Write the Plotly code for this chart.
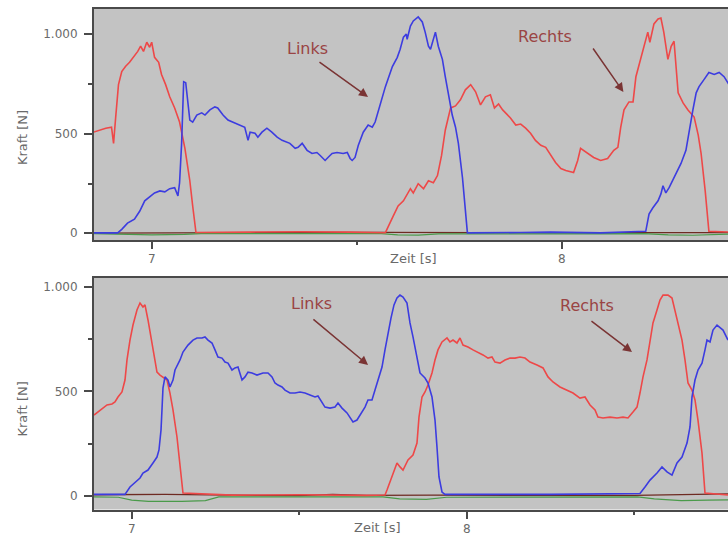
import plotly.graph_objects as go

# ---------- upper panel: force [N] over time [s] ----------
top_red_t = [6.858, 6.873, 6.888, 6.902, 6.907, 6.912, 6.919, 6.927, 6.936, 6.946, 6.956, 6.966,
             6.973, 6.980, 6.988, 6.995, 7.000, 7.007, 7.017, 7.024, 7.034, 7.044, 7.056, 7.068,
             7.081, 7.093, 7.100, 7.108, 7.240, 7.362, 7.484, 7.570,
             7.589, 7.601, 7.614, 7.631, 7.638, 7.650, 7.663, 7.675, 7.687, 7.697, 7.707, 7.716,
             7.729, 7.741, 7.753, 7.765, 7.778, 7.790, 7.802, 7.814, 7.826, 7.836, 7.846, 7.856,
             7.866, 7.875, 7.888, 7.900, 7.912, 7.924, 7.936, 7.949, 7.961, 7.973, 7.985, 7.998,
             8.010, 8.029, 8.039, 8.046, 8.061, 8.078, 8.095, 8.112, 8.127, 8.137, 8.144, 8.152,
             8.164, 8.174, 8.181, 8.191, 8.200, 8.210, 8.215, 8.225, 8.235, 8.242, 8.249, 8.259,
             8.267, 8.274, 8.284, 8.296, 8.308, 8.323, 8.333, 8.340, 8.350, 8.359, 8.408]
top_red_f = [508, 518, 528, 533, 452, 579, 747, 813, 838, 859, 884, 914,
             940, 914, 960, 935, 960, 884, 859, 798, 747, 686, 630, 559,
             427, 264, 137, 4, 6, 8, 6, 3,
             86, 137, 163, 224, 203, 249, 224, 264, 254, 290, 391, 518,
             630, 640, 671, 721, 747, 711, 645, 686, 696, 630, 650, 620,
             599, 579, 544, 549, 528, 503, 467, 442, 432, 391, 356, 325,
             315, 305, 366, 427, 406, 381, 366, 376, 417, 432, 533, 620,
             660, 660, 787, 864, 940, 1011, 960, 1052, 1077, 1082, 1011, 874,
             940, 965, 706, 655, 620, 584, 493, 401, 213, 10, 6]

top_blue_t = [6.858, 6.917, 6.927, 6.941, 6.958, 6.971, 6.983, 6.995, 7.007, 7.020, 7.032, 7.044,
              7.056, 7.064, 7.068, 7.073, 7.076, 7.078, 7.083, 7.088, 7.093, 7.100, 7.110, 7.122,
              7.130, 7.142, 7.154, 7.161, 7.174, 7.186, 7.198, 7.215, 7.227, 7.235, 7.240, 7.252,
              7.259, 7.269, 7.281, 7.293, 7.306, 7.318, 7.330, 7.337, 7.350, 7.357, 7.367, 7.379,
              7.391, 7.403, 7.411, 7.423, 7.430, 7.440, 7.452, 7.467, 7.477, 7.484, 7.489, 7.496,
              7.504, 7.516, 7.528, 7.538, 7.545, 7.557, 7.570, 7.587, 7.599, 7.606, 7.614, 7.621,
              7.623, 7.631, 7.638, 7.650, 7.660, 7.667, 7.675, 7.680, 7.687, 7.692, 7.699, 7.709,
              7.716, 7.724, 7.733, 7.741, 7.748, 7.758, 7.765, 7.770, 7.900, 7.973, 8.095, 8.205,
              8.213, 8.222, 8.235, 8.242, 8.247, 8.254, 8.262, 8.274, 8.291, 8.303, 8.311, 8.320,
              8.328, 8.335, 8.347, 8.359, 8.372, 8.384, 8.396, 8.408]
top_blue_f = [2, 2, 20, 51, 71, 112, 163, 183, 203, 213, 208, 224,
              229, 188, 254, 452, 671, 762, 757, 671, 569, 559, 594, 605,
              594, 620, 635, 630, 594, 569, 559, 544, 533, 467, 508, 503,
              483, 508, 528, 508, 483, 467, 457, 452, 427, 432, 452, 417,
              401, 406, 391, 366, 381, 401, 406, 401, 406, 376, 366, 381,
              442, 508, 544, 533, 559, 645, 737, 838, 884, 925, 986, 1001,
              975, 1041, 1067, 1087, 1062, 1011, 940, 925, 975, 1011, 940, 874,
              787, 686, 594, 533, 452, 279, 97, 2, 4, 6, 2, 10,
              97, 127, 163, 198, 239, 203, 229, 279, 351, 417, 518, 620,
              706, 737, 772, 808, 798, 808, 787, 747]

top_green_t = [6.858, 6.930, 7.000, 7.080, 7.120, 7.560, 7.600, 7.650, 7.700, 8.200, 8.260, 8.320, 8.380, 8.408]
top_green_f = [-2, -6, -8, -6, -2, -2, -8, -9, -3, -2, -8, -10, -5, -4]

top_dark_t = [6.858, 7.000, 7.200, 7.400, 7.480, 7.560, 7.800, 8.000, 8.200, 8.408]
top_dark_f = [1, 2, 4, 3, 6, 5, 3, 2, 4, 3]

# ---------- lower panel ----------
bot_red_t = [6.8875, 6.9054, 6.9263, 6.9412, 6.9501, 6.9591, 6.9710, 6.9800, 6.9860, 6.9949,
             7.0039, 7.0158, 7.0248, 7.0337, 7.0397, 7.0487, 7.0606, 7.0696, 7.0755, 7.0845,
             7.0934, 7.1054, 7.1143, 7.1233, 7.1352, 7.1442, 7.1531, 7.3000, 7.5000, 7.7000,
             7.7561, 7.7621, 7.7770, 7.7919, 7.8009, 7.8099, 7.8248, 7.8397, 7.8516, 7.8576,
             7.8666, 7.8755, 7.8845, 7.8964, 7.9054, 7.9143, 7.9263, 7.9412, 7.9501, 7.9591,
             7.9710, 7.9800, 7.9890, 8.0039, 8.0188, 8.0337, 8.0487, 8.0636, 8.0755, 8.0845,
             8.0994, 8.1143, 8.1293, 8.1442, 8.1591, 8.1740, 8.1890, 8.2099, 8.2278, 8.2427,
             8.2576, 8.2785, 8.2994, 8.3173, 8.3382, 8.3531, 8.3681, 8.3830, 8.3919, 8.4069,
             8.4278, 8.4487, 8.4666, 8.4815, 8.4964, 8.5084, 8.5173, 8.5263, 8.5382, 8.5472,
             8.5561, 8.5681, 8.5770, 8.5860, 8.6009, 8.6128, 8.6218, 8.6307, 8.6427, 8.6516,
             8.6606, 8.6725, 8.6815, 8.6904, 8.7024, 8.7113, 8.7800]
bot_red_f = [387, 411, 435, 440, 449, 473, 497, 554, 650, 745,
             817, 889, 922, 903, 913, 841, 736, 650, 592, 578,
             569, 554, 492, 411, 282, 139, 14, 4, 6, 3,
             5, 29, 91, 158, 139, 124, 172, 196, 253, 377,
             473, 497, 530, 588, 650, 698, 736, 755, 736, 745,
             731, 755, 721, 712, 698, 688, 674, 659, 664, 640,
             635, 650, 659, 659, 664, 659, 640, 626, 612, 569,
             545, 521, 506, 492, 468, 473, 435, 411, 377, 373,
             377, 373, 377, 373, 401, 425, 492, 569, 650, 731,
             827, 889, 936, 960, 960, 946, 889, 827, 745, 650,
             540, 506, 459, 363, 205, 14, 5]

bot_blue_t = [6.8875, 6.9800, 6.9949, 7.0099, 7.0248, 7.0337, 7.0487, 7.0636, 7.0755, 7.0815,
              7.0875, 7.0904, 7.0934, 7.0994, 7.1084, 7.1143, 7.1233, 7.1293, 7.1442, 7.1531,
              7.1681, 7.1830, 7.1949, 7.2099, 7.2188, 7.2278, 7.2397, 7.2487, 7.2576, 7.2696,
              7.2785, 7.2875, 7.2994, 7.3084, 7.3173, 7.3293, 7.3382, 7.3472, 7.3591, 7.3740,
              7.3919, 7.4069, 7.4188, 7.4278, 7.4367, 7.4487, 7.4576, 7.4725, 7.4875, 7.5024,
              7.5173, 7.5322, 7.5472, 7.5561, 7.5681, 7.5770, 7.5919, 7.6069, 7.6158, 7.6278,
              7.6427, 7.6516, 7.6606, 7.6725, 7.6815, 7.6964, 7.7054, 7.7173, 7.7263, 7.7352,
              7.7472, 7.7561, 7.7651, 7.7740, 7.7830, 7.7919, 7.8009, 7.8099, 7.8218, 7.8307,
              7.8397, 7.8516, 7.8606, 7.8755, 7.8845, 7.8964, 7.9054, 7.9113, 7.9173, 7.9263,
              7.9352, 8.2487, 8.5173, 8.5322, 8.5472, 8.5681, 8.5830, 8.5979, 8.6128, 8.6278,
              8.6427, 8.6576, 8.6666, 8.6725, 8.6815, 8.6904, 8.7024, 8.7113, 8.7173, 8.7263,
              8.7352, 8.7472, 8.7561, 8.7651, 8.7800]
bot_blue_f = [8, 8, 43, 67, 86, 110, 124, 158, 186, 220,
              315, 411, 516, 569, 554, 521, 554, 602, 650, 688,
              721, 745, 755, 755, 760, 745, 731, 698, 664, 659,
              640, 635, 602, 612, 616, 554, 569, 592, 588, 578,
              588, 588, 569, 540, 530, 521, 506, 492, 492, 497,
              492, 483, 473, 478, 449, 425, 420, 425, 444, 420,
              397, 373, 354, 363, 387, 425, 459, 459, 506, 554,
              616, 698, 779, 850, 913, 946, 960, 951, 922, 827,
              760, 664, 588, 564, 540, 473, 363, 234, 91, 19,
              8, 8, 12, 43, 76, 110, 139, 115, 100, 158,
              186, 253, 330, 473, 554, 602, 635, 698, 745, 736,
              793, 817, 803, 793, 745]

bot_green_t = [6.8875, 6.9600, 7.0000, 7.0500, 7.1500, 7.2200, 7.2600, 7.7500, 7.8000, 7.8800,
               7.9400, 8.5100, 8.5600, 8.6400, 8.7200, 8.7800]
bot_green_f = [-4, -6, -20, -26, -26, -22, -4, -4, -14, -16, -6, -4, -14, -22, -20, -18]

bot_dark_t = [6.8875, 7.1000, 7.3000, 7.5000, 7.6000, 7.7000, 7.9000, 8.2000, 8.5000, 8.7800]
bot_dark_f = [6, 8, 4, 2, 8, 3, 4, 2, 3, 10]

RED = "#ee4848"
BLUE = "#3c3ce0"
GREEN = "#4a9a4a"
DARK = "#6e2a22"
AXIS = "#4a4a4a"
LABEL = "#6a6a6a"
NOTE = "#9a4444"
ARROW = "#7a3434"

fig = go.Figure()


def add_panel(xa, ya, series):
    for t, f, col, w in series:
        fig.add_trace(go.Scatter(x=t, y=f, mode="lines", xaxis=xa, yaxis=ya,
                                 line=dict(color=col, width=w), hoverinfo="skip",
                                 showlegend=False))


add_panel("x", "y", [(top_dark_t, top_dark_f, DARK, 1.3), (top_green_t, top_green_f, GREEN, 1.2),
                     (top_red_t, top_red_f, RED, 1.6), (top_blue_t, top_blue_f, BLUE, 1.6)])
add_panel("x2", "y2", [(bot_dark_t, bot_dark_f, DARK, 1.3), (bot_green_t, bot_green_f, GREEN, 1.2),
                       (bot_red_t, bot_red_f, RED, 1.6), (bot_blue_t, bot_blue_f, BLUE, 1.6)])

y_ticks = [0, 500, 1000]
y_text = ["0", "500", "1.000"]
x_ticks = [7, 8]
x_text = ["7", "8"]

tick_font = dict(family="DejaVu Sans", size=12, color=LABEL)
xcommon = dict(tickvals=x_ticks, ticktext=x_text, ticks="outside", ticklen=7, tickwidth=1.5,
               tickcolor=AXIS, showline=True, linecolor=AXIS, linewidth=2, mirror=True,
               showgrid=False, zeroline=False, tickfont=tick_font,
               minor=dict(tickvals=[6.5, 7.5, 8.5], ticks="outside", ticklen=3, tickcolor=AXIS))
ycommon = dict(tickvals=y_ticks, ticktext=y_text, ticks="outside", ticklen=8, tickwidth=1.5,
               tickcolor=AXIS, showline=True, linecolor=AXIS, linewidth=2, mirror=False,
               showgrid=False, zeroline=False, tickfont=tick_font,
               ticklabelstandoff=4,
               minor=dict(tickvals=[250, 750], ticks="outside", ticklen=4, tickcolor=AXIS))

fig.update_layout(
    width=728, height=537,
    margin=dict(l=94, r=0, t=0, b=0),
    paper_bgcolor="white", plot_bgcolor="#c3c3c3",
    xaxis=dict(domain=[0, 1], anchor="y", range=[6.8593, 8.4056], **xcommon),
    yaxis=dict(domain=[0.5531, 0.9832], anchor="x", range=[-33.7, 1127], **ycommon),
    xaxis2=dict(domain=[0, 1], anchor="y2", range=[6.8875, 8.780], **xcommon),
    yaxis2=dict(domain=[0.0512, 0.4823], anchor="x2", range=[-64.5, 1041.6], **ycommon),
)

title_font = dict(family="DejaVu Sans", size=13, color=LABEL)
note_font = dict(family="DejaVu Sans", size=16, color=NOTE)
notes = [
    # axis titles
    dict(text="Kraft [N]", xref="paper", yref="y", x=-0.113, y=480, textangle=-90, font=title_font),
    dict(text="Kraft [N]", xref="paper", yref="y2", x=-0.113, y=415, textangle=-90, font=title_font),
    dict(text="Zeit [s]", xref="x", yref="paper", x=7.6385, y=1 - 258 / 537, font=title_font),
    dict(text="Zeit [s]", xref="x2", yref="paper", x=7.7352, y=1 - 527 / 537, font=title_font),
    # side labels
    dict(text="Links", xref="x", yref="y", x=7.379, y=931, font=note_font),
    dict(text="Rechts", xref="x", yref="y", x=7.959, y=991, font=note_font),
    dict(text="Links", xref="x2", yref="y2", x=7.538, y=922, font=note_font),
    dict(text="Rechts", xref="x2", yref="y2", x=8.359, y=912, font=note_font),
]
for n in notes:
    n.setdefault("showarrow", False)
    n.setdefault("xanchor", "center")
    n.setdefault("yanchor", "middle")
    fig.add_annotation(**n)

arrows = [
    ("x", "y", 7.5276, 685, 7.4056, 866),
    ("x", "y", 8.1505, 710, 8.074, 936),
    ("x2", "y2", 7.7055, 626, 7.538, 850),
    ("x2", "y2", 8.4935, 688, 8.368, 841),
]
for xr, yr, hx, hy, tx, ty in arrows:
    fig.add_annotation(text="", xref=xr, yref=yr, axref=xr, ayref=yr, x=hx, y=hy, ax=tx, ay=ty,
                       showarrow=True, arrowhead=2, arrowsize=1.2, arrowwidth=1.5, arrowcolor=ARROW)

fig.write_html("out.html")
